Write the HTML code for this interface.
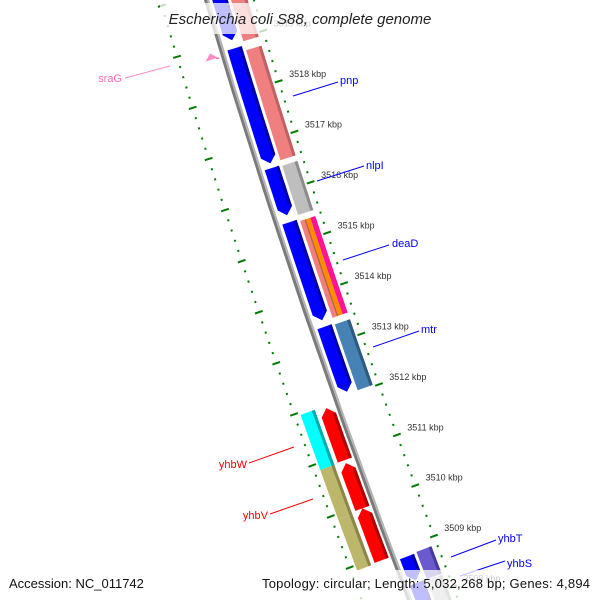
<!DOCTYPE html>
<html><head><meta charset="utf-8"><style>
html,body{margin:0;background:#fff;width:600px;height:600px;overflow:hidden}
svg{display:block;font-family:"Liberation Sans",sans-serif}
</style></head><body>
<svg id="map" width="600" height="600" viewBox="0 0 600 600" xmlns="http://www.w3.org/2000/svg" overflow="hidden">
<g id="ticks"></g>
<g id="backbone"></g>
<g id="genes"></g>
<g id="tlabels"></g>
<g font-size="11">
<line x1="293" y1="96" x2="338" y2="82" stroke="#0000ff"/>
<text x="340" y="84" fill="#0000ff">pnp</text>
<line x1="317" y1="181" x2="364" y2="166" stroke="#0000ff"/>
<text x="366" y="169" fill="#0000ff">nlpI</text>
<line x1="343" y1="260" x2="389" y2="245" stroke="#0000ff"/>
<text x="392" y="247" fill="#0000ff">deaD</text>
<line x1="373" y1="347" x2="419" y2="331" stroke="#0000ff"/>
<text x="421" y="333" fill="#0000ff">mtr</text>
<line x1="451" y1="557" x2="496" y2="540" stroke="#0000ff"/>
<text x="498" y="542" fill="#0000ff">yhbT</text>
<line x1="460" y1="576" x2="505" y2="561" stroke="#0000ff"/>
<text x="507" y="567" fill="#0000ff">yhbS</text>
<line x1="249" y1="463" x2="294" y2="447" stroke="#ff0000"/>
<text x="247" y="468" fill="#ff0000" text-anchor="end">yhbW</text>
<line x1="270" y1="514" x2="313" y2="499" stroke="#ff0000"/>
<text x="268" y="519" fill="#ff0000" text-anchor="end">yhbV</text>
<line x1="125" y1="78" x2="170" y2="66" stroke="#ff8cc6"/>
<text x="122" y="82" fill="#ff70b8" text-anchor="end">sraG</text>
</g>
<rect x="160" y="3" width="278" height="31" fill="#fff" fill-opacity="0.75"/>
<text x="300" y="24" text-anchor="middle" font-size="15" font-style="italic" fill="#222">Escherichia coli S88, complete genome</text>
<rect x="0" y="570" width="600" height="30" fill="#fff" fill-opacity="0.75"/>
<text x="9" y="588" font-size="13" fill="#111">Accession: NC_011742</text>
<text x="262" y="588" font-size="13" fill="#111" textLength="328" lengthAdjust="spacing">Topology: circular; Length: 5,032,268 bp; Genes: 4,894</text>
</svg>
<script>
// feature data (kbp)
const geneStarts = [3520.3,3518.84,3516.48,3515.41,3513.35,3508.82,3508.3, 3520.3,3518.74,3516.46,3515.37,3513.33,3508.84,3508.28, 3518.88,3511.91,3510.83,3509.94, 3511.95,3510.87,3509.9];
const geneEnds   = [3519.0,3516.57,3515.55,3513.48,3512.07,3508.35,3506.9, 3518.92,3516.57,3515.49,3513.46,3512.03,3508.3,3506.9, 3518.76,3510.89,3509.94,3508.92, 3510.87,3509.9,3508.9];
const geneSlots  = [1,1,1,1,1,1,1, 2,2,2,2,2,2,2, -1,-1,-1,-1, -2,-2,-2];
const geneArrows = [-1,-1,-1,-1,-1,-1,-1, 0,0,0,3,0,0,0, 1,1,1,1, 0,0,0];
const geneColors = ["#0000ff","#0000ff","#0000ff","#0000ff","#0000ff","#0000ff","#0000ff","#f08080","#f08080","#bebebe","#f08080","#4682b4","#6a5acd","#bebebe","#ff8cc6","#ff0000","#ff0000","#ff0000","#00ffff","#bdb76b","#bdb76b"];
const geneEdges  = ["#0000a8","#0000a8","#0000a8","#0000a8","#0000a8","#0000a8","#0000a8","#c06060","#c06060","#8c8c8c","#c06060","#2e5a80","#463a9a","#8c8c8c","#d060a0","#b00000","#b00000","#b00000","#00aaaa","#8a864c","#8a864c"];
const tickStart = 3506.4, tickEnd = 3520.6, tickStep = 0.2;
const labelKbp = [3519,3518,3517,3516,3515,3514,3513,3512,3511,3510,3509,3508];

const NS="http://www.w3.org/2000/svg";
function tOf(k){return 247+(3515-k)*50.8;}
function P(t,r){const cx=207+0.2961*t+0.0000704*t*t;const d=0.2961+0.0001408*t;const L=Math.hypot(1,d);return [cx+r/L,t-r*d/L];}
function poly(g,pts,fill,name){const p=document.createElementNS(NS,"polygon");p.setAttribute("points",pts.map(q=>q[0].toFixed(1)+","+q[1].toFixed(1)).join(" "));p.setAttribute("fill",fill);


g.appendChild(p);return p;}
function band(t0,t1,r0,r1){const pts=[];const n=6;for(let i=0;i<=n;i++)pts.push(P(t0+(t1-t0)*i/n,r0));for(let i=n;i>=0;i--)pts.push(P(t0+(t1-t0)*i/n,r1));return pts;}
const slotR={1:[5,20],2:[23,39],"-1":[-20,-5],"-2":[-39,-24]};

// backbone
const bb=document.getElementById("backbone");
poly(bb,band(-20,640,-3,0),"#7a7a7a","backbone-dark");
poly(bb,band(-20,640,0,2),"#b4b4b4","backbone-light");

// genes
const gg=document.getElementById("genes");
for(let i=0;i<geneStarts.length;i++){
  const t0=tOf(geneStarts[i]), t1=Math.min(tOf(geneEnds[i]),640);
  const [r0,r1]=slotR[geneSlots[i]];
  const a=geneArrows[i];
  if(a===3){
    const w=(r1-r0)/3;
    poly(gg,band(t0,t1,r0,r0+w),"#f08080","gene-"+i+"-cog-a");
    poly(gg,band(t0,t1,r0+w,r0+2*w),"#ff8c00","gene-"+i+"-cog-b");
    poly(gg,band(t0,t1,r0+2*w,r1),"#ff1493","gene-"+i+"-cog-c");
    poly(gg,band(t0,t1,r0+w-0.6,r0+w+0.6),"#b06040","gene-"+i+"-divider");
    continue;
  }
  let pts;
  const rm=(r0+r1)/2, ah=7;
  if(a===-1){pts=band(t0,t1-ah,r0,r1);pts.splice(7,0,P(t1,rm));}
  else if(a===1){pts=band(t0+ah,t1,r0,r1);pts.unshift(P(t0,rm));}
  else pts=band(t0,t1,r0,r1);
  poly(gg,pts,geneColors[i],"gene-"+i);
  const e0=r1-3;
  const et0=a===1?t0+ah:t0, et1=a===-1?t1-ah:t1;
  poly(gg,band(et0,et1,e0,r1),geneEdges[i],"gene-"+i+"-shade");
}

// ruler ticks
const tg=document.getElementById("ticks");
const nT=Math.round((tickEnd-tickStart)/tickStep);
for(let j=0;j<=nT;j++){
  const k=tickStart+j*tickStep; const t=tOf(k);
  const major=Math.abs(k-Math.round(k))<1e-6;
  [45,-45].forEach(rc=>{
    const h=major?4:1;
    const a=P(t,rc-h),b=P(t,rc+h);
    const l=document.createElementNS(NS,"line");
    l.setAttribute("x1",a[0]);l.setAttribute("y1",a[1]);l.setAttribute("x2",b[0]);l.setAttribute("y2",b[1]);
    l.setAttribute("stroke","#007a00");l.setAttribute("stroke-width","2");
    
    
    tg.appendChild(l);
  });
}
const lg=document.getElementById("tlabels");
labelKbp.forEach(k=>{
  const q=P(tOf(k),56);
  const tx=document.createElementNS(NS,"text");
  tx.setAttribute("x",q[0]);tx.setAttribute("y",q[1]-1);tx.setAttribute("font-size","9");tx.setAttribute("fill","#333");
  tx.textContent=k+" kbp";
  
  
  lg.appendChild(tx);
});
</script>
</body></html>
